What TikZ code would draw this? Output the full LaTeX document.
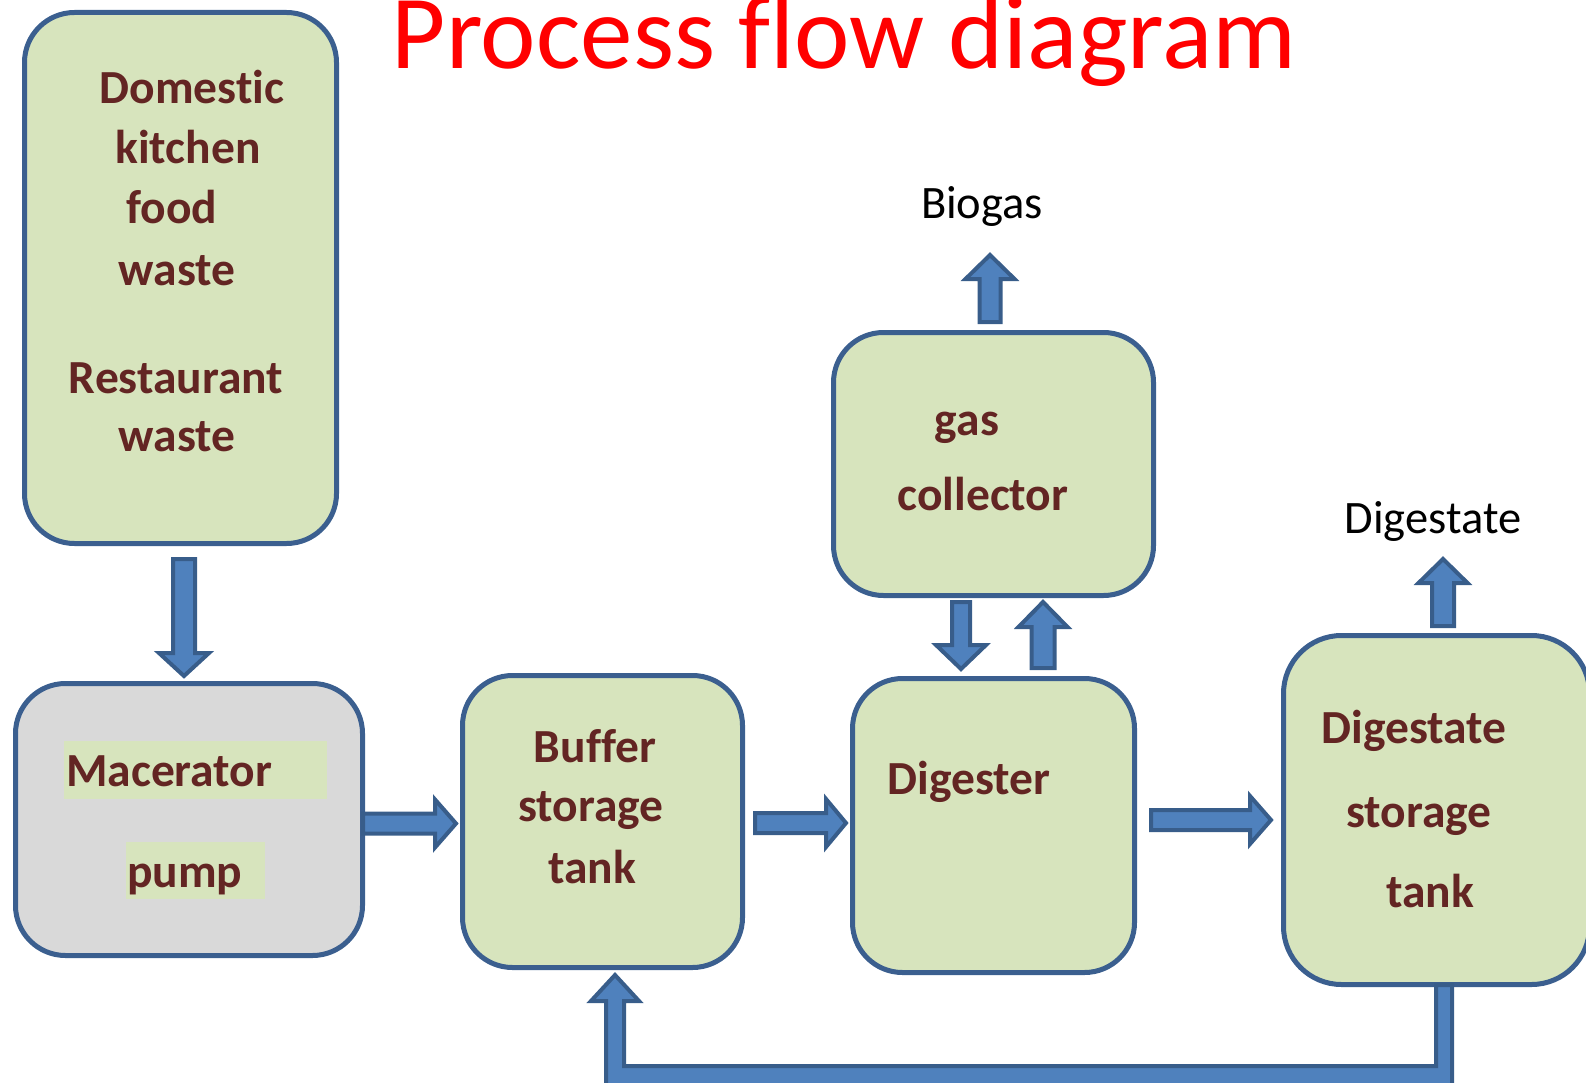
\documentclass[tikz,border=0pt]{standalone}
\usepackage{fontspec}
\setmainfont[Ligatures={NoCommon,NoContextual}]{Carlito}
\definecolor{boxgreen}{HTML}{D7E4BD}
\definecolor{boxline}{HTML}{3B5F8F}
\definecolor{arrfill}{HTML}{4F81BD}
\definecolor{arrline}{HTML}{385D8A}
\definecolor{txtred}{HTML}{632523}
\definecolor{boxgray}{HTML}{D9D9D9}
\newcommand\harr[6]{\draw[barrow] (#1,#4-#5) -- (#2,#4-#5) -- (#2,#4-#6) -- (#3,#4) -- (#2,#4+#6) -- (#2,#4+#5) -- (#1,#4+#5) -- cycle;}
\newcommand\varr[6]{\draw[barrow] (#1-#5,#2) -- (#1-#5,#3) -- (#1-#6,#3) -- (#1,#4) -- (#1+#6,#3) -- (#1+#5,#3) -- (#1+#5,#2) -- cycle;}
\begin{document}
\begin{tikzpicture}[x=1pt,y=-1pt,
  procbox/.style={draw=boxline, line width=5pt, fill=boxgreen, rounded corners=50pt, inner sep=0pt},
  barrow/.style={draw=arrline, line width=4pt, fill=arrfill, line join=miter},
  boxtxt/.style={anchor=base, inner sep=0pt, text=txtred, font=\fontsize{47.5}{56}\selectfont\bfseries},
  lbl/.style={anchor=base, inner sep=0pt, text=black, font=\fontsize{46.5}{55}\selectfont}]
\useasboundingbox (0,0) rectangle (1586,1083);
% boxes
\node[procbox, minimum width=312pt, minimum height=531pt] (src) at (180.5,278) {};
\node[procbox, fill=boxgray, minimum width=347pt, minimum height=272pt] (mac) at (189,819.5) {};
\node[procbox, minimum width=280pt, minimum height=292pt] (buf) at (602.5,821.5) {};
\node[procbox, minimum width=282pt, minimum height=294pt] (dig) at (993.5,825.5) {};
\node[procbox, minimum width=320pt, minimum height=263pt] (gas) at (993.5,464) {};
\node[procbox, rounded corners=58pt, minimum width=306pt, minimum height=349pt] (dst) at (1436.5,810) {};
% highlights in macerator box
\fill[boxgreen] (64,741) rectangle (327,799);
\fill[boxgreen] (126,842) rectangle (265,899);
% title
\node[anchor=base, inner sep=0pt, text=red, font=\fontsize{105}{120}\selectfont] (title) at (844,69) {Process f\kern0pt{}low diagram};
% box texts
\node[boxtxt] (t1) at (192,104) {Domestic};
\node[boxtxt] (t2) at (188,164) {kitchen};
\node[boxtxt] (t3) at (172,224) {food};
\node[boxtxt] (t4) at (177,285) {waste};
\node[boxtxt] (t5) at (176,393) {Restaurant};
\node[boxtxt] (t6) at (177,451) {waste};
\node[boxtxt, anchor=base west] (m1) at (66,786) {Macerator};
\node[boxtxt, anchor=base west] (m2) at (127,887) {pump};
\node[boxtxt] (b1) at (595,762) {Buf\kern0pt{}fer};
\node[boxtxt] (b2) at (591,821) {storage};
\node[boxtxt] (b3) at (592,883) {tank};
\node[boxtxt] (d1) at (969,794) {Digester};
\node[boxtxt] (g1) at (967,435) {gas};
\node[boxtxt] (g2) at (983,510) {collector};
\node[boxtxt] (s1) at (1414,743) {Digestate};
\node[boxtxt] (s2) at (1419,827) {storage};
\node[boxtxt] (s3) at (1430,907) {tank};
% labels
\node[lbl] (biogas) at (982,219) {Biogas};
\node[lbl] (digestate) at (1433,533) {Digestate};
% arrows
\varr{184}{559}{653}{676}{11}{25}
\harr{363}{435}{456}{823.5}{10}{24}
\harr{755}{826}{846}{823}{10}{24}
\harr{1151}{1250}{1271}{820}{10}{24}
\varr{961}{602}{645}{669}{9}{25}
\varr{1043}{668}{627}{602}{11.5}{24.5}
\varr{990}{322}{279}{255}{10.5}{24.5}
\varr{1443}{626}{583}{559}{11}{24.5}
% feedback loop
\draw[barrow] (1436,985) -- (1452,985) -- (1452,1092) -- (606,1092) -- (606,1001) -- (591,1001) -- (615,975) -- (639,1001) -- (624,1001) -- (624,1066) -- (1436,1066) -- cycle;
\end{tikzpicture}
\end{document}
